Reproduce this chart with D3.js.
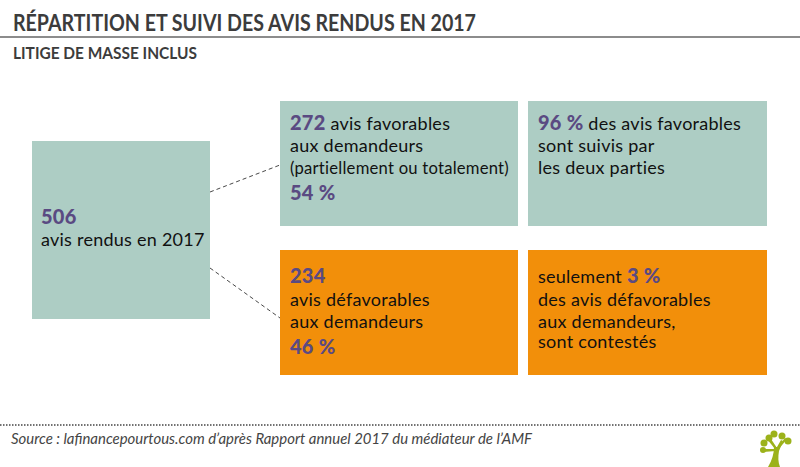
<!DOCTYPE html>
<html>
<head>
    <meta charset="UTF-8">
    <title>Répartition et suivi des avis rendus en 2017</title>
    <script src="https://cdn.jsdelivr.net/npm/d3@7"></script>
    <style>
        html, body { margin: 0; background: #fff; }
        svg { display: block; font-family: Lato, sans-serif; }
        .title { font-size: 22px; font-weight: 700; fill: #3c3c3c; }
        .subtitle { font-size: 17px; font-weight: 700; fill: #3c3c3c; }
        .source { font-size: 15px; font-style: italic; fill: #444; }
        .box-text { font-size: 18px; letter-spacing: 0.25px; fill: #111; }
        .strong { font-size: 20px; font-weight: 900; fill: #5a4a82; }
    </style>
</head>
<body>
    <svg id="chart" width="800" height="467"></svg>
    <script>
        // Values
        const boxNames = ['total', 'favorable', 'favorableFollowed', 'unfavorable', 'unfavorableContested'];
        const boxColors = ['#adcdc4', '#adcdc4', '#adcdc4', '#f28f0a', '#f28f0a'];
        // **x** marks the purple bold part of a line
        const boxLines = [
            ['**506**', 'avis rendus en 2017'],
            ['**272** avis favorables', 'aux demandeurs', '(partiellement ou totalement)', '**54 %**'],
            ['**96 %** des avis favorables', 'sont suivis par', 'les deux parties'],
            ['**234**', 'avis défavorables', 'aux demandeurs', '**46 %**'],
            ['seulement **3 %**', 'des avis défavorables', 'aux demandeurs,', 'sont contestés']
        ];
        const links = [['total', 'favorable'], ['total', 'unfavorable']];

        // Layout
        const layout = {
            total: { x: 32, y: 141, w: 178, h: 178, base: [224, 246] },
            favorable: { x: 280, y: 101, w: 238, h: 125, base: [130, 152, 174, 200] },
            favorableFollowed: { x: 528, y: 101, w: 239, h: 125, base: [130, 152, 174] },
            unfavorable: { x: 280, y: 250, w: 238, h: 125, base: [283, 306, 328, 354] },
            unfavorableContested: { x: 528, y: 250, w: 239, h: 125, base: [283, 306, 328, 348] }
        };
        const linkEnds = {
            favorable: { x1: 210, y1: 192, x2: 280, y2: 165 },
            unfavorable: { x1: 210, y1: 268, x2: 280, y2: 318 }
        };
        // the one line that has to be squeezed to stay inside its box
        const squeezedLine = { text: '(partiellement ou totalement)', width: 219 };

        const svg = d3.select('#chart');

        // Header
        svg.append('text').attr('class', 'title').attr('x', 13).attr('y', 31)
            .attr('textLength', 463).attr('lengthAdjust', 'spacingAndGlyphs')
            .text('RÉPARTITION ET SUIVI DES AVIS RENDUS EN 2017');
        svg.append('line').attr('x1', 0).attr('x2', 800).attr('y1', 37).attr('y2', 37)
            .attr('stroke', '#666').attr('stroke-width', 1.5);
        svg.append('text').attr('class', 'subtitle').attr('x', 13).attr('y', 59)
            .attr('textLength', 184).attr('lengthAdjust', 'spacingAndGlyphs')
            .text('LITIGE DE MASSE INCLUS');

        // Dashed links between boxes
        svg.selectAll('line.link').data(links).join('line')
            .attr('class', 'link')
            .attr('x1', d => linkEnds[d[1]].x1).attr('y1', d => linkEnds[d[1]].y1)
            .attr('x2', d => linkEnds[d[1]].x2).attr('y2', d => linkEnds[d[1]].y2)
            .attr('stroke', '#333').attr('stroke-width', 0.9)
            .attr('stroke-dasharray', '4 3');

        // Boxes
        const boxes = svg.selectAll('g.box').data(boxNames).join('g').attr('class', 'box');
        boxes.append('rect')
            .attr('x', d => layout[d].x).attr('y', d => layout[d].y)
            .attr('width', d => layout[d].w).attr('height', d => layout[d].h)
            .attr('fill', (d, i) => boxColors[i]);

        boxes.each(function (name, i) {
            const box = layout[name];
            d3.select(this).selectAll('text').data(boxLines[i]).join('text')
                .attr('class', 'box-text')
                .attr('x', box.x + (name === 'total' ? 9 : 10))
                .attr('y', (d, j) => box.base[j])
                .each(function (line) {
                    if (line === squeezedLine.text) {
                        d3.select(this).attr('textLength', squeezedLine.width)
                            .attr('lengthAdjust', 'spacingAndGlyphs');
                    }
                    // odd parts of the split are the bold ones
                    d3.select(this).selectAll('tspan').data(line.split('**')).join('tspan')
                        .attr('class', (d, k) => k % 2 ? 'strong' : null)
                        .text(d => d);
                });
        });

        // Footer
        svg.append('line').attr('x1', 0).attr('x2', 800).attr('y1', 425).attr('y2', 425)
            .attr('stroke', '#444').attr('stroke-width', 1.5)
            .attr('stroke-dasharray', '1.5 1.5');
        svg.append('text').attr('class', 'source').attr('x', 11).attr('y', 444)
            .attr('textLength', 521).attr('lengthAdjust', 'spacingAndGlyphs')
            .text('Source : lafinancepourtous.com d’après Rapport annuel 2017 du médiateur de l’AMF');

        // Tree logo
        const logo = svg.append('g').attr('fill', '#9cb21a');
        logo.append('path').attr('d', 'M768 467 C772 460 774 454 774 447 L777 447 L781 440 L783 441 L779 451 C778 457 778 462 780 467 Z');
        logo.selectAll('circle')
            .data([[764, 443, 3.5], [763, 450, 3], [769, 438, 3.5], [774, 434, 3.5], [782, 436, 3.5], [788, 441, 3.5]])
            .join('circle')
            .attr('cx', d => d[0]).attr('cy', d => d[1]).attr('r', d => d[2]);
        logo.append('path').attr('d', 'M763 449 L776 449 L776 451 L763 452 Z');
        logo.append('path').attr('d', 'M769 436 L777 448 L775 449 L767 439 Z');
        logo.append('path').attr('d', 'M787 439 L778 450 L777 448 L785 438 Z');
    </script>
</body>
</html>
